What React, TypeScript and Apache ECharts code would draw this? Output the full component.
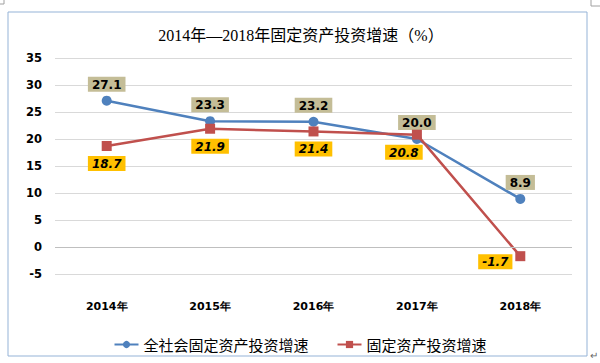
import React, { useEffect, useRef } from "react";
import * as echarts from "echarts";

const categories = ["2014年", "2015年", "2016年", "2017年", "2018年"];
const totalSociety = [27.1, 23.3, 23.2, 20.0, 8.9];
const fixedAsset = [18.7, 21.9, 21.4, 20.8, -1.7];
const seriesNames = ["全社会固定资产投资增速", "固定资产投资增速"];
const titleText = "2014年—2018年固定资产投资增速（%）";

export default function App() {
  const ref = useRef<HTMLDivElement>(null);
  useEffect(() => {
    if (!ref.current) return;
    const chart = echarts.init(ref.current, null, { renderer: "svg" });
    const labelFont = "'DejaVu Sans', Verdana, sans-serif";
    chart.setOption({
      animation: false,
      backgroundColor: "#ffffff",
      title: {
        text: titleText,
        left: 296,
        textAlign: "center",
        top: 22,
        textStyle: {
          fontFamily: "'Liberation Serif', 'Noto Sans CJK SC', serif",
          fontSize: 16,
          fontWeight: "normal",
          color: "#000",
        },
      },
      legend: {
        left: "center",
        top: 332,
        itemWidth: 24,
        itemHeight: 9,
        itemGap: 28,
        textStyle: {
          fontFamily: "'Noto Sans CJK SC', sans-serif",
          fontSize: 15,
          color: "#000",
        },
        data: seriesNames,
      },
      grid: { left: 55, right: 28, top: 58, bottom: 89, containLabel: false },
      xAxis: {
        type: "category",
        data: categories,
        axisLine: { show: false },
        axisTick: { show: false },
        axisLabel: {
          margin: 27,
          fontFamily: labelFont,
          fontWeight: "bold",
          fontSize: 11,
          color: "#000",
        },
      },
      yAxis: {
        type: "value",
        min: -5,
        max: 35,
        interval: 5,
        axisLine: { show: false },
        axisTick: { show: false },
        splitLine: { lineStyle: { color: "#d9d9d9", width: 1 } },
        axisLabel: {
          margin: 13,
          fontFamily: labelFont,
          fontWeight: "bold",
          fontSize: 11.5,
          color: "#000",
        },
      },
      series: [
        {
          name: seriesNames[0],
          type: "line",
          data: totalSociety,
          symbol: "circle",
          symbolSize: 10,
          z: 2,
          itemStyle: { color: "#4F81BD" },
          lineStyle: { color: "#4F81BD", width: 2.5 },
          label: {
            show: true,
            position: "top",
            distance: 4,
            formatter: (p: any) => p.value.toFixed(1),
            fontFamily: labelFont,
            fontWeight: "bold",
            fontSize: 12,
            color: "#000",
            backgroundColor: "#C4BD97",
            padding: [2, 4, 1, 4],
          },
          markLine: {
            silent: true,
            symbol: "none",
            label: { show: false },
            lineStyle: { color: "#bfbfbf", type: "solid", width: 1 },
            data: [{ yAxis: 0 }],
          },
        },
        {
          name: seriesNames[1],
          type: "line",
          data: fixedAsset.map((v, i) => {
            if (i === 3) return { value: v, label: { offset: [-13, 0] } };
            if (i === 4) return { value: v, label: { offset: [-25, -12] } };
            return v;
          }),
          symbol: "rect",
          symbolSize: 10,
          z: 3,
          itemStyle: { color: "#C0504D" },
          lineStyle: { color: "#C0504D", width: 2.5 },
          label: {
            show: true,
            position: "bottom",
            distance: 5,
            formatter: (p: any) => p.value.toFixed(1),
            fontFamily: labelFont,
            fontWeight: "bold",
            fontStyle: "italic",
            fontSize: 12,
            color: "#000",
            backgroundColor: "#FFC000",
            padding: [2, 4, 1, 4],
          },
        },
      ],
      graphic: [
        {
          type: "rect",
          shape: { x: 8, y: 12, width: 579, height: 344 },
          style: { fill: "none", stroke: "#95B3D7", lineWidth: 1 },
          z: -1,
        },
        {
          type: "polyline",
          shape: { points: [[4, 0], [4, 4], [0, 4]] },
          style: { fill: "none", stroke: "#a0a0a0", lineWidth: 1 },
        },
        {
          type: "polyline",
          shape: { points: [[591, 0], [591, 6], [600, 6]] },
          style: { fill: "none", stroke: "#a0a0a0", lineWidth: 1 },
        },
        {
          type: "text",
          x: 590,
          y: 350,
          style: { text: "↵", fontSize: 10, fill: "#666" },
        },
      ],
    });
    return () => chart.dispose();
  }, []);
  return (
    <div
      ref={ref}
      style={{ position: "fixed", left: 0, top: 0, width: 600, height: 363 }}
    />
  );
}
